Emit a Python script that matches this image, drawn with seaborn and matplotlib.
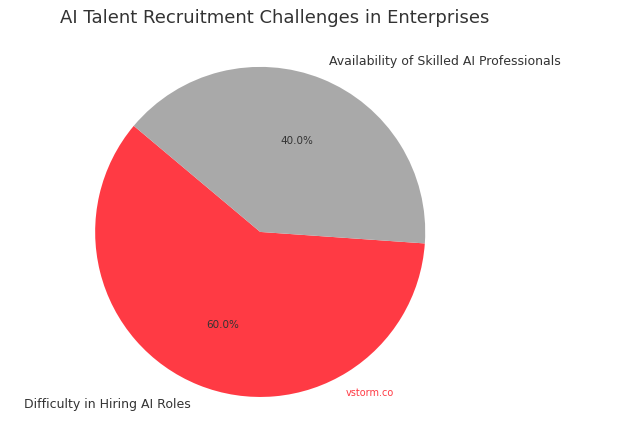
import matplotlib
matplotlib.use("Agg")
import matplotlib.pyplot as plt
import seaborn as sns

sns.set_theme(style="white")

labels = ["Difficulty in Hiring AI Roles", "Availability of Skilled AI Professionals"]
shares = [60, 40]
colors = ["#ff3a44", "#a9a9a9"]

fig = plt.figure(figsize=(6.3, 4.27), dpi=100)
ax = fig.add_axes([0.151, 0.068, 0.524, 0.773])
ax.pie(shares, labels=labels, colors=colors, autopct="%1.1f%%", startangle=140,
       textprops={"fontsize": 9, "color": "#333333"}, labeldistance=1.12,
       wedgeprops={"linewidth": 0}, pctdistance=0.6)
for t in ax.texts:
    if "%" in t.get_text():
        t.set_fontsize(7.5)
    t.set_clip_on(False)
ax.set_xlim(-1, 1)
ax.set_ylim(-1, 1)
ax.set_aspect("equal")
ax.axis("off")
fig.text(0.095, 0.945, "AI Talent Recruitment Challenges in Enterprises", fontsize=13, color="#333333")
fig.text(0.548, 0.073, "vstorm.co", fontsize=7, color="#ff3a44", ha="left")
fig.savefig("out.png", dpi=100)
